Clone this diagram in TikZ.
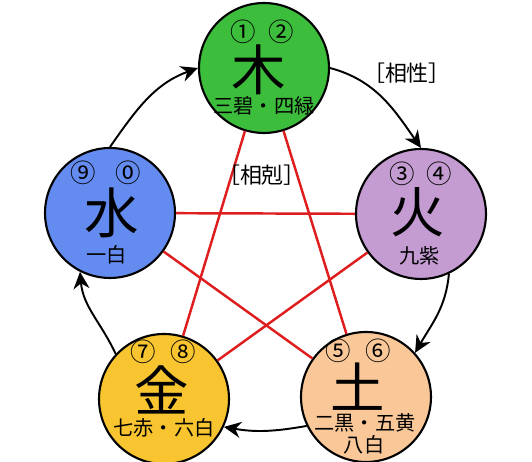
\documentclass[tikz,border=0pt]{standalone}
\usepackage{fontspec}
\setmainfont{Noto Sans CJK JP}
\newfontfamily\numfont{Noto Sans CJK JP}
\usetikzlibrary{arrows.meta,calc}
\definecolor{M}{RGB}{60, 190, 60}
\definecolor{H}{RGB}{196, 156, 210}
\definecolor{T}{RGB}{250, 200, 152}
\definecolor{J}{RGB}{248, 196, 48}
\definecolor{S}{RGB}{100, 140, 240}
\definecolor{K}{RGB}{222, 30, 30}

\begin{document}
\begin{tikzpicture}[x=0.02cm, y=0.02cm,
    elem/.style={circle, draw, line width=1.2pt, minimum size=2.6cm, inner sep=0pt},
    num/.style={font=\numfont\fontsize{14.5}{14.5}\selectfont, inner sep=0pt},
    big/.style={font=\fontsize{31}{31}\selectfont, inner sep=0pt},
    sub/.style={font=\fontsize{11.5}{11.5}\selectfont, inner sep=0pt},
    kline/.style={color=K, line width=1.4pt},
    sline/.style={line width=1.1pt, -{Stealth[length=0.34cm, width=0.32cm]}}]
    \useasboundingbox (0,0) rectangle (532,462);

    %Los cinco circulos
    \node[elem, fill=M] (mu) at (264,394) {};   %madera
    \node[elem, fill=H] (huo) at (421,248) {};  %fuego
    \node[elem, fill=T] (tu) at (366,65) {};    %tierra
    \node[elem, fill=J] (jin) at (164,63) {};   %metal
    \node[elem, fill=S] (shui) at (110,249) {}; %agua

    %Estrella roja [相剋]
    \draw[kline] (mu) -- (tu);
    \draw[kline] (mu) -- (jin);
    \draw[kline] (shui) -- (huo);
    \draw[kline] (shui) -- (tu);
    \draw[kline] (huo) -- (jin);
    \node[sub, font=\fontsize{12.5}{12.5}\selectfont] (ke) at (262,287) {［相剋］};

    %Flechas exteriores [相性]
    \draw[sline] (mu.0) to[out=-15, in=125] (huo.90);
    \draw[sline] (huo.-65) to[out=-95, in=60] (tu.42);
    \draw[sline] (tu.-154) to[out=190, in=-10] (jin.-25);
    \draw[sline] (jin.137) to[out=115, in=-85] (shui.-117);
    \draw[sline] (shui.90) to[out=55, in=200] (mu.180);
    \node[sub, font=\fontsize{12.5}{12.5}\selectfont] (sheng) at (407,389) {［相性］};

    %Textos del circulo de madera
    \node[num] (mu-a) at ($(mu)+(-21,36)$) {①};
    \node[num] (mu-b) at ($(mu)+(17,36)$) {②};
    \node[big] (mu-c) at ($(mu)+(-5,-2)$) {木};
    \node[sub] (mu-d) at ($(mu)+(0,-38)$) {三碧・四緑};

    %Textos del circulo de fuego
    \node[num] (huo-a) at ($(huo)+(-19,40)$) {③};
    \node[num] (huo-b) at ($(huo)+(18,40)$) {④};
    \node[big] (huo-c) at ($(huo)+(-3,2)$) {火};
    \node[sub] (huo-d) at ($(huo)+(-1,-42)$) {九紫};

    %Textos del circulo de tierra
    \node[num] (tu-a) at ($(tu)+(-28,46)$) {⑤};
    \node[num] (tu-b) at ($(tu)+(12,46)$) {⑥};
    \node[big] (tu-c) at ($(tu)+(-8,10)$) {土};
    \node[sub] (tu-d) at ($(tu)+(-1,-26)$) {二黒・五黄};
    \node[sub] (tu-e) at ($(tu)+(-2,-48)$) {八白};

    %Textos del circulo de metal
    \node[num] (jin-a) at ($(jin)+(-21,47)$) {⑦};
    \node[num] (jin-b) at ($(jin)+(19,47)$) {⑧};
    \node[big] (jin-c) at ($(jin)+(-2,9)$) {金};
    \node[sub] (jin-d) at ($(jin)+(0,-29)$) {七赤・六白};

    %Textos del circulo de agua
    \node[num] (shui-a) at ($(shui)+(-27,40)$) {⑨};
    \node[num] (shui-b) at ($(shui)+(18,40)$) {⓪};
    \node[big] (shui-c) at ($(shui)+(2,0)$) {水};
    \node[sub] (shui-d) at ($(shui)+(-3,-42)$) {一白};
\end{tikzpicture}
\end{document}
